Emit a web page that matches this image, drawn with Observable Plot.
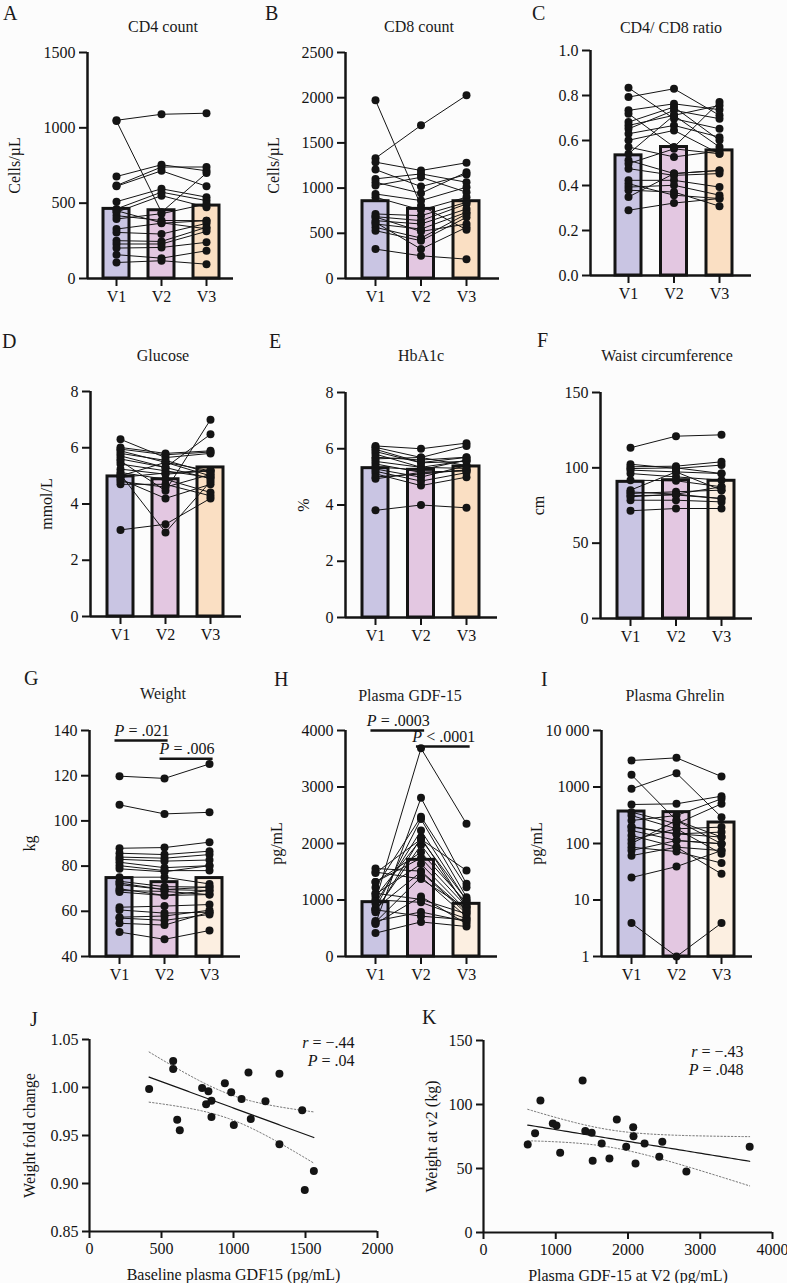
<!DOCTYPE html>
<html><head><meta charset="utf-8">
<script src="https://cdn.jsdelivr.net/npm/d3@7"></script>
<script src="https://cdn.jsdelivr.net/npm/@observablehq/plot@0.6"></script>
<style>
body{margin:0;background:#fcfcfc;}
#c{position:relative;width:787px;height:1283px;font-family:"Liberation Serif","DejaVu Serif",serif;color:#1a1a1a;overflow:hidden;background:#fcfcfc}
#c svg{position:absolute;overflow:visible;font-family:"Liberation Serif","DejaVu Serif",serif !important}
#c svg text{font-family:"Liberation Serif","DejaVu Serif",serif !important}
.lab{position:absolute;font-size:20px;line-height:1;transform:translateY(-50%);}
.ttl{position:absolute;font-size:16px;line-height:1;transform:translate(-50%,-50%);white-space:nowrap}
</style></head><body><div id="c"></div>
<script>
const FONT = "Liberation Serif, DejaVu Serif, serif";
const visits = ["V1","V2","V3"];

// ---------- DATA ----------
// A: CD4 count (cells/µL)
const cd4V1 = [1050,1045,677,617,612,510,462,440,417,395,328,306,251,229,202,158,106,450];
const cd4V2 = [1090,440,755,740,715,595,573,550,385,430,367,295,246,229,206,135,118,370];
const cd4V3 = [1097,700,715,740,612,540,517,473,384,495,384,366,340,313,240,184,95,330];
const cd4Means = [462,453,484];
// B: CD8 count
const cd8V1 = [1971,1331,1287,1205,1102,1065,1028,935,899,714,684,640,603,566,529,680,620,325];
const cd8V2 = [806,1694,1195,1017,1157,943,1120,862,758,695,640,603,547,447,418,520,325,251];
const cd8V3 = [540,2026,1280,1150,1065,1176,954,1010,899,843,825,769,732,714,677,603,566,214];
const cd8Means = [855,770,855];
// C: CD4/CD8 ratio
const ratioV1 = [0.834,0.793,0.734,0.719,0.682,0.667,0.652,0.630,0.601,0.571,0.541,0.512,0.497,0.475,0.423,0.408,0.393,0.379,0.349,0.290];
const ratioV2 = [0.697,0.830,0.763,0.571,0.749,0.712,0.734,0.667,0.645,0.527,0.712,0.453,0.563,0.445,0.423,0.357,0.401,0.371,0.453,0.322];
const ratioV3 = [0.652,0.712,0.737,0.771,0.601,0.756,0.697,0.615,0.541,0.553,0.571,0.467,0.541,0.453,0.393,0.342,0.357,0.308,0.467,0.342];
const ratioMeans = [0.534,0.571,0.556];
// D: Glucose (mmol/L)
const gluV1 = [6.30,6.01,5.89,5.71,5.53,5.42,5.24,5.12,5.00,4.88,4.70,3.08,5.95,5.80,5.60,5.05,4.95,4.80];
const gluV2 = [5.65,5.80,5.48,5.30,4.47,5.18,5.06,4.88,5.48,4.20,4.70,3.28,5.75,5.55,5.30,2.99,5.10,4.60];
const gluV3 = [5.80,5.89,5.18,6.48,7.00,4.94,5.18,4.41,5.00,4.70,4.29,4.20,5.85,5.10,4.90,4.80,5.20,5.05];
const gluMeans = [4.98,4.88,5.30];
// E: HbA1c (%)
const hbaV1 = [6.10,6.05,5.98,5.81,5.64,5.46,5.28,5.11,4.93,3.81,5.90,5.55,5.35,5.20,5.00,5.70];
const hbaV2 = [6.00,5.69,5.51,5.34,5.69,5.16,4.99,4.69,5.16,4.00,5.50,5.34,5.25,4.85,5.10,5.60];
const hbaV3 = [6.20,6.10,5.69,5.58,5.40,5.22,5.40,4.99,5.22,3.90,5.55,5.30,5.60,5.15,5.25,5.70];
const hbaMeans = [5.31,5.25,5.37];
// F: Waist circumference (cm)
const waistV1 = [113.3,102.4,100.7,98.5,96.2,91.8,85.2,83.0,80.8,78.5,71.5,99.5,84.0,81.5];
const waistV2 = [121.0,99.6,101.1,97.3,94.0,91.4,97.3,84.1,82.5,78.5,73.0,100.0,82.5,82.0];
const waistV3 = [121.9,101.8,104.0,96.2,91.8,87.4,85.2,85.2,79.6,77.4,73.0,96.2,87.4,79.6];
const waistMeans = [90.7,91.8,91.4];
// G: Weight (kg)
const wtV1 = [119.8,107.1,87.9,85.7,84.0,83.0,81.7,80.2,78.8,75.1,73.3,71.8,72.5,69.2,70.0,68.5,61.8,60.6,57.4,57.0,54.7,50.8];
const wtV2 = [118.8,103.1,88.2,85.1,83.5,82.2,79.3,78.0,77.5,75.1,70.9,69.6,69.6,68.8,67.0,67.0,62.3,59.2,57.9,56.0,53.9,47.6];
const wtV3 = [125.2,103.8,90.6,86.6,85.1,82.7,80.2,78.0,80.2,72.1,70.7,69.2,70.7,67.4,67.4,69.2,63.0,59.6,60.5,58.6,59.6,51.5];
const wtMeans = [74.7,72.9,74.7];
const wtTests = [{a:0,b:1,y:135.6,label:"P = .021"},{a:1,b:2,y:127.5,label:"P = .006"}];
// H: Plasma GDF-15 (pg/mL)
const gdfV1 = [414,581,581,609,627,782,810,826,847,847,940,984,1002,1056,1104,1120,1222,1319,1319,1477,1495,1558];
const gdfV2 = [612,2808,1061,1409,788,2104,1975,714,2433,1497,2229,3684,959,2072,1636,1010,2475,1845,1743,2076,1372,1511];
const gdfV3 = [531,1286,578,700,620,873,900,650,1050,760,991,2348,667,1000,814,755,1227,950,880,1522,850,800];
const gdfMeans = [962,1711,932];
const gdfTests = [{a:0,b:1,y:4000,label:"P = .0003"},{a:1,b:2,y:3717,label:"P < .0001"}];
// I: Plasma Ghrelin (pg/mL, log)
const ghrV1 = [2944,1641,928,490,359,313,255,195,170,139,116,86,75,61,25,3.9,200,100];
const ghrV2 = [3281,255,1757,504,223,182,313,148,113,86,182,72,113,86,39,1,148,255];
const ghrV3 = [1534,130,292,688,504,195,618,159,99,75,66,45,99,29,75,3.9,130,99];
const ghrMeans = [368,359,235];
const ghrTicks = [1,10,100,1000,10000];
const ghrTickLabels = ["1","10","100","1000","10 000"];
// J: baseline GDF15 vs weight fold change
const jX = [414,581,581,609,627,782,810,826,847,847,940,984,1002,1056,1104,1120,1222,1319,1319,1477,1495,1558];
const jY = [0.9985,1.0277,1.0193,0.9665,0.9554,0.9996,0.9825,0.9961,0.9863,0.9693,1.0044,0.9950,0.9610,0.9881,1.0156,0.9672,0.9857,1.0142,0.9408,0.9763,0.8931,0.9130];
const jStats = ["r = −.44","P = .04"];
// K: GDF-15 at V2 vs weight at V2
const kX = [612,714,788,959,1010,1061,1372,1409,1497,1511,1636,1743,1845,1975,2072,2076,2104,2229,2433,2475,2808,3684];
const kY = [68.8,77.5,103.1,85.1,83.5,62.3,118.8,79.3,78.0,56.0,69.6,57.9,88.2,67.0,82.2,75.1,53.9,69.6,59.2,70.9,47.6,67.0];
const kStats = ["r = −.43","P = .048"];

const C1 = "#c9c5e3", C2 = "#e3c7e1", C3 = "#fadfc3", C3L = "#fcefe1";
const INK = "#141414";
const FS = 16;

const root = document.getElementById("c");
function div(cls, text, x, y) {
  const d = document.createElement("div");
  d.className = cls; d.textContent = text;
  d.style.left = x + "px"; d.style.top = y + "px";
  root.appendChild(d);
}
function italicize(svg) {
  svg.querySelectorAll("text").forEach(t => {
    if (t.children.length) return;
    const m = /^(P|r)( .*)$/.exec(t.textContent);
    if (m) {
      t.textContent = "";
      const ns = "http://www.w3.org/2000/svg";
      const a = document.createElementNS(ns, "tspan"); a.setAttribute("font-style","italic"); a.textContent = m[1];
      const b = document.createElementNS(ns, "tspan"); b.textContent = m[2];
      t.appendChild(a); t.appendChild(b);
    }
  });
}
function place(svg, left, top) {
  svg.style.left = left + "px"; svg.style.top = top + "px";
  italicize(svg);
  root.appendChild(svg);
}

function barPanel(p) {
  const ML = 90, MT = 45, MB = 40, MR = 8;
  const frameW = p.end - p.axisX, frameH = p.yBot - p.yTop;
  const lo = -(p.c0 - p.axisX) / p.step, hi = (p.end - p.c0) / p.step;
  const half = 13 / p.step;
  const rows = [];
  p.v.forEach((arr, vi) => arr.forEach((val, si) => rows.push({s: si, x: vi, y: val})));
  const bars = p.means.map((m, i) => ({x: i, m, fill: p.colors[i]}));
  const marks = [
    Plot.rectY(bars, {x1: d => d.x - half, x2: d => d.x + half, y1: p.domain[0], y2: "m", fill: "fill", stroke: INK, strokeWidth: 3}),
    Plot.line(rows, {x: "x", y: "y", z: "s", stroke: INK, strokeWidth: 1}),
    Plot.dot(rows, {x: "x", y: "y", r: 4, fill: INK}),
    Plot.ruleX([lo], {stroke: INK, strokeWidth: 2.5}),
    Plot.ruleY([p.domain[0]], {stroke: INK, strokeWidth: 2.5}),
    Plot.axisY({ticks: p.ticks, tickFormat: p.fmt, tickSize: 8, tickPadding: 4, strokeWidth: 2, stroke: INK, fontSize: FS,
      label: p.ylabel || null, labelAnchor: "center", labelOffset: p.labelOffset, labelArrow: "none"}),
    Plot.axisX({ticks: [0,1,2], tickFormat: i => visits[i], tickSize: 8, tickPadding: 4, strokeWidth: 2, stroke: INK, fontSize: FS, label: null})
  ];
  if (p.tests) {
    marks.push(Plot.ruleY(p.tests, {y: "y", x1: d => d.a - 0.1, x2: d => d.b + 0.08, stroke: INK, strokeWidth: 2.5}));
    marks.push(Plot.text(p.tests, {x: d => (d.a + d.b) / 2, y: "y", text: "label", dy: -10, fontSize: FS, fill: INK}));
  }
  const svg = Plot.plot({
    width: ML + frameW + MR, height: MT + frameH + MB,
    marginLeft: ML, marginRight: MR, marginTop: MT, marginBottom: MB,
    style: {fontFamily: FONT, fontSize: FS + "px", color: INK, background: "transparent", overflow: "visible"},
    x: {domain: [lo, hi]},
    y: {type: p.log ? "log" : "linear", domain: p.domain},
    color: {type: "identity"},
    marks
  });
  place(svg, p.axisX - ML, p.yTop - MT);
  div("lab", p.letter, p.lx, p.ly);
  div("ttl", p.title, p.tx, p.ty);
}

function regression(xs, ys) {
  const n = xs.length, mx = d3.mean(xs), my = d3.mean(ys);
  let sxx = 0, sxy = 0;
  for (let i = 0; i < n; i++) { sxx += (xs[i]-mx)**2; sxy += (xs[i]-mx)*(ys[i]-my); }
  const b = sxy / sxx, a = my - b * mx;
  let sse = 0; for (let i = 0; i < n; i++) sse += (ys[i] - a - b*xs[i])**2;
  const s = Math.sqrt(sse / (n - 2)), t = 2.086;
  const [x0, x1] = d3.extent(xs);
  const grid = d3.range(0, 61).map(i => x0 + (x1 - x0) * i / 60);
  return grid.map(x => {
    const yh = a + b * x, se = s * Math.sqrt(1/n + (x - mx)**2 / sxx);
    return {x, fit: yh, lo: yh - t*se, hi: yh + t*se};
  });
}

function scatterPanel(p) {
  const ML = 90, MT = 20, MB = 60, MR = 30;
  const frameW = p.right - p.axisX, frameH = p.yBot - p.yTop;
  const pts = p.xs.map((x, i) => ({x, y: p.ys[i]}));
  const reg = regression(p.xs, p.ys);
  const stats = p.stats.map((s, i) => ({s, x: p.statX, y: p.statY[i]}));
  const svg = Plot.plot({
    width: ML + frameW + MR, height: MT + frameH + MB,
    marginLeft: ML, marginRight: MR, marginTop: MT, marginBottom: MB,
    style: {fontFamily: FONT, fontSize: FS + "px", color: INK, background: "transparent", overflow: "visible"},
    x: {domain: p.xDomain},
    y: {domain: p.yDomain},
    marks: [
      Plot.line(reg, {x: "x", y: "lo", stroke: "#777", strokeWidth: 1, strokeDasharray: "1.5,2"}),
      Plot.line(reg, {x: "x", y: "hi", stroke: "#777", strokeWidth: 1, strokeDasharray: "1.5,2"}),
      Plot.line(reg, {x: "x", y: "fit", stroke: INK, strokeWidth: 1.2}),
      Plot.dot(pts, {x: "x", y: "y", r: 4, fill: INK}),
      Plot.ruleX([p.xDomain[0]], {stroke: INK, strokeWidth: 2.2}),
      Plot.ruleY([p.yDomain[0]], {stroke: INK, strokeWidth: 2.2}),
      Plot.axisY({ticks: p.yTicks, tickFormat: p.yFmt, tickSize: 7, tickPadding: 4, strokeWidth: 2, stroke: INK, fontSize: FS,
        label: p.ylabel, labelAnchor: "center", labelOffset: p.ylabelOffset, labelArrow: "none"}),
      Plot.axisX({ticks: p.xTicks, tickFormat: d => String(d), tickSize: 7, tickPadding: 4, strokeWidth: 2, stroke: INK, fontSize: FS,
        label: p.xlabel, labelAnchor: "center", labelOffset: 48, labelArrow: "none"}),
      Plot.text(stats, {x: "x", y: "y", text: "s", textAnchor: "end", fontSize: FS, fill: INK})
    ]
  });
  place(svg, p.axisX - ML, p.yTop - MT);
  div("lab", p.letter, p.lx, p.ly);
}

const f1 = d3.format(".1f"), f2 = d3.format(".2f");

barPanel({letter:"A", lx:3, ly:13, title:"CD4 count", tx:163, ty:27, ylabel:"Cells/µL", labelOffset:79,
  axisX:87, c0:116, step:45, end:233, yTop:52, yBot:278, domain:[0,1500], ticks:[0,500,1000,1500], fmt:String,
  v:[cd4V1,cd4V2,cd4V3], means:cd4Means, colors:[C1,C2,C3]});
barPanel({letter:"B", lx:265, ly:13, title:"CD8 count", tx:419, ty:27, ylabel:"Cells/µL", labelOffset:78,
  axisX:345, c0:375, step:45.5, end:499, yTop:52, yBot:278, domain:[0,2500], ticks:[0,500,1000,1500,2000,2500], fmt:String,
  v:[cd8V1,cd8V2,cd8V3], means:cd8Means, colors:[C1,C2,C3]});
barPanel({letter:"C", lx:532, ly:13, title:"CD4/ CD8 ratio", tx:671, ty:28, ylabel:null, labelOffset:60,
  axisX:590, c0:628, step:45.5, end:751, yTop:50, yBot:275, domain:[0,1], ticks:[0,0.2,0.4,0.6,0.8,1.0], fmt:f1,
  v:[ratioV1,ratioV2,ratioV3], means:ratioMeans, colors:[C1,C2,C3]});
barPanel({letter:"D", lx:2, ly:341, title:"Glucose", tx:163, ty:356, ylabel:"mmol/L", labelOffset:50,
  axisX:90, c0:120, step:45, end:241, yTop:391, yBot:616, domain:[0,8], ticks:[0,2,4,6,8], fmt:String,
  v:[gluV1,gluV2,gluV3], means:gluMeans, colors:[C1,C2,C3]});
barPanel({letter:"E", lx:269, ly:341, title:"HbA1c", tx:421, ty:356, ylabel:"%", labelOffset:48,
  axisX:345, c0:375, step:45.5, end:497, yTop:392, yBot:617, domain:[0,8], ticks:[0,2,4,6,8], fmt:String,
  v:[hbaV1,hbaV2,hbaV3], means:hbaMeans, colors:[C1,C2,C3]});
barPanel({letter:"F", lx:537, ly:340, title:"Waist circumference", tx:667, ty:356, ylabel:"cm", labelOffset:68,
  axisX:600, c0:630, step:45.5, end:752, yTop:392, yBot:618, domain:[0,150], ticks:[0,50,100,150], fmt:String,
  v:[waistV1,waistV2,waistV3], means:waistMeans, colors:[C1,C2,C3L]});
barPanel({letter:"G", lx:24, ly:678, title:"Weight", tx:163, ty:694, ylabel:"kg", labelOffset:66,
  axisX:89, c0:119, step:45, end:240, yTop:730, yBot:956, domain:[40,140], ticks:[40,60,80,100,120,140], fmt:String,
  v:[wtV1,wtV2,wtV3], means:wtMeans, colors:[C1,C2,C3L], tests:wtTests});
barPanel({letter:"H", lx:274, ly:679, title:"Plasma GDF-15", tx:410, ty:696, ylabel:"pg/mL", labelOffset:75,
  axisX:345, c0:375, step:45.5, end:497, yTop:730, yBot:956, domain:[0,4000], ticks:[0,1000,2000,3000,4000], fmt:String,
  v:[gdfV1,gdfV2,gdfV3], means:gdfMeans, colors:[C1,C2,C3L], tests:gdfTests});
barPanel({letter:"I", lx:541, ly:679, title:"Plasma Ghrelin", tx:675, ty:696, ylabel:"pg/mL", labelOffset:71,
  axisX:601, c0:631, step:45, end:752, yTop:730, yBot:956, domain:[1,10000], log:true, ticks:ghrTicks,
  fmt:d => ghrTickLabels[ghrTicks.indexOf(d)],
  v:[ghrV1,ghrV2,ghrV3], means:ghrMeans, colors:[C1,C2,C3L]});

scatterPanel({letter:"J", lx:30, ly:1019, axisX:89, right:377, yTop:1039, yBot:1231,
  xDomain:[0,2000], yDomain:[0.85,1.05], xTicks:[0,500,1000,1500,2000], yTicks:[0.85,0.90,0.95,1.00,1.05], yFmt:f2,
  xs:jX, ys:jY, xlabel:"Baseline plasma GDF15 (pg/mL)", ylabel:"Weight fold change", ylabelOffset:66,
  stats:jStats, statX:1840, statY:[1.0469,1.0281]});
scatterPanel({letter:"K", lx:422, ly:1017, axisX:483, right:772, yTop:1040, yBot:1232,
  xDomain:[0,4000], yDomain:[0,150], xTicks:[0,1000,2000,3000,4000], yTicks:[0,50,100,150], yFmt:String,
  xs:kX, ys:kY, xlabel:"Plasma GDF-15 at V2 (pg/mL)", ylabel:"Weight at v2 (kg)", ylabelOffset:58,
  stats:kStats, statX:3599, statY:[141.4,127.3]});
</script>
</body></html>
